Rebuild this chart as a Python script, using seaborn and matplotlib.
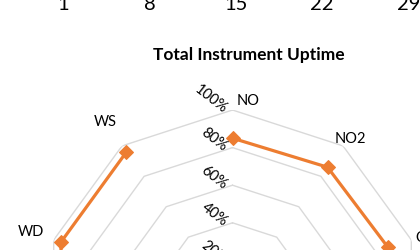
import numpy as np
import pandas as pd
import matplotlib
matplotlib.use('Agg')
import matplotlib.pyplot as plt
import seaborn as sns

# Radar data (clockwise from top, Excel style)
categories = ['NO', 'NO2', 'O3', 'PM10', 'PM2.5', 'RH', 'SO2', 'TEMP', 'WD', 'WS']
uptime = [0.85, 0.86, 0.87, 0.93, 0.92, 0.95, 0.90, 0.95, 0.96, 0.96]
ring_levels = [0.2, 0.4, 0.6, 0.8, 1.0]
ring_labels = ['20%', '40%', '60%', '80%', '100%']

# Day ticks of the chart sitting above (only its labels show)
day_ticks = [1, 8, 15, 22, 29]

ORANGE = '#ED7D31'
GRID = '#D9D9D9'

sns.set_theme(style='white')
plt.rcParams['font.family'] = ['Lato', 'DejaVu Sans']

fig = plt.figure(figsize=(4.2, 2.5), dpi=100)

# tick labels of the chart above, peeking in at the top edge
top_ax = fig.add_axes([0.1507, 1.016, 0.822, 0.2])
top_ax.set_xlim(1, 29)
top_ax.set_xticks(day_ticks)
top_ax.set_xticklabels([str(d) for d in day_ticks])
top_ax.tick_params(axis='x', length=0, pad=0, labelsize=14.5, colors='black')
top_ax.set_yticks([])
for s in top_ax.spines.values():
    s.set_visible(False)
top_ax.patch.set_visible(False)

# radar axes (centre lies below the visible area)
ax = fig.add_axes([0.106, -0.944, 0.8952, 1.504], projection='polar')
ax.set_theta_zero_location('N')
ax.set_theta_direction(-1)
ax.set_ylim(0, 1)
ax.grid(False)
ax.set_xticks([])
ax.set_yticks([])
ax.spines['polar'].set_visible(False)
ax.patch.set_visible(False)

n = len(categories)
angles = np.arange(n) * 2 * np.pi / n
closed = np.append(angles, angles[0])

# polygon gridlines
for lvl in ring_levels:
    ax.plot(closed, [lvl] * (n + 1), color=GRID, lw=1.0, zorder=1)

df = pd.DataFrame({'theta': closed, 'uptime': uptime + uptime[:1]})
sns.lineplot(data=df, x='theta', y='uptime', sort=False, ax=ax,
             color=ORANGE, lw=2.3, marker='D', markersize=7,
             markeredgecolor=ORANGE, zorder=3)
ax.set_xlabel('')
ax.set_ylabel('')

# category labels, nudged next to the outer ring vertex
label_offsets = {
    'NO': (16, 9, 'center'), 'NO2': (7, 7, 'center'), 'O3': (4, 2, 'left'),
    'PM10': (15, -5, 'left'), 'PM2.5': (10, -10, 'left'), 'RH': (0, -14, 'center'),
    'SO2': (-10, -10, 'right'), 'TEMP': (-15, -5, 'right'),
    'WD': (-23, 8, 'center'), 'WS': (-17, 24, 'center'),
}
for cat, th in zip(categories, angles):
    dx, dy, ha = label_offsets[cat]
    ax.annotate(cat, xy=(th, 1.0), xytext=(dx, dy), textcoords='offset pixels',
                ha=ha, va='center', fontsize=10.5, color='black')

# percent labels along the first spoke
for lvl, lab in zip(ring_levels, ring_labels):
    ax.annotate(lab, xy=(0, lvl), xytext=(-7, -1), textcoords='offset pixels',
                ha='right', va='center', rotation=-38, rotation_mode='anchor',
                fontsize=10.5, color='black')

fig.text(249 / 420, 0.76, 'Total Instrument Uptime', ha='center', va='baseline',
         fontsize=12.5, fontweight='bold', color='black')

fig.savefig('out.png', dpi=100)
